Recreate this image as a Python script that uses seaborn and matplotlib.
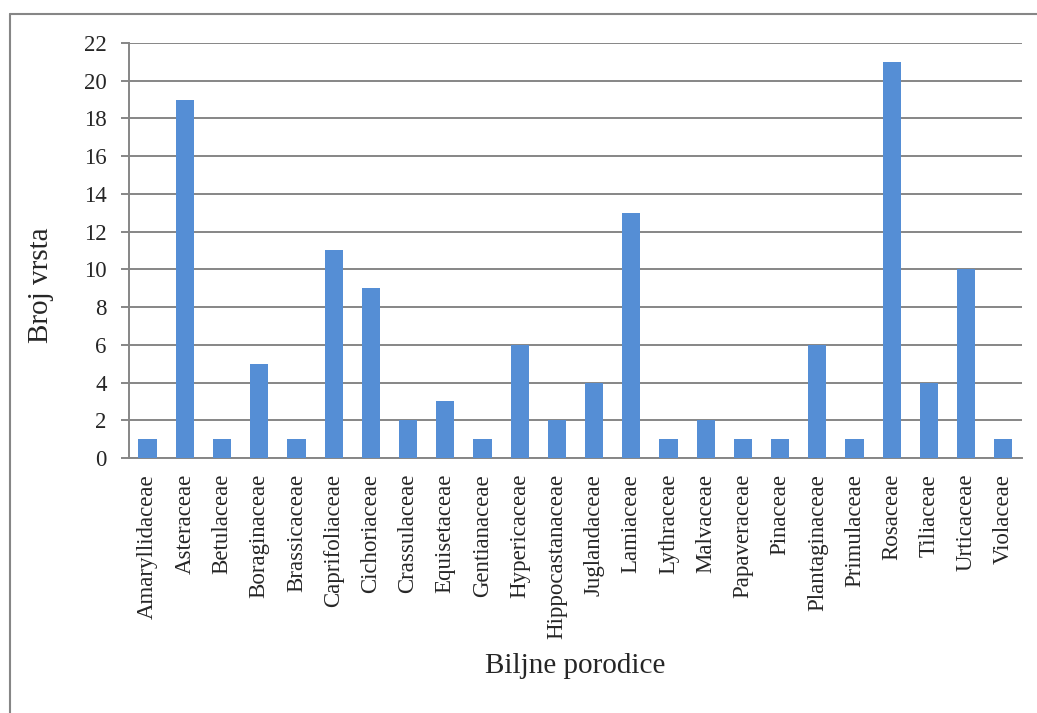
import pandas as pd
import seaborn as sns
import matplotlib.pyplot as plt
from matplotlib.lines import Line2D

# plant families and number of species
families = ['Amaryllidaceae', 'Asteraceae', 'Betulaceae', 'Boraginaceae', 'Brassicaceae',
            'Caprifoliaceae', 'Cichoriaceae', 'Crassulaceae', 'Equisetaceae', 'Gentianaceae',
            'Hypericaceae', 'Hippocastanaceae', 'Juglandaceae', 'Lamiaceae', 'Lythraceae',
            'Malvaceae', 'Papaveraceae', 'Pinaceae', 'Plantaginaceae', 'Primulaceae',
            'Rosaceae', 'Tiliaceae', 'Urticaceae', 'Violaceae']
counts = [1, 19, 1, 5, 1, 11, 9, 2, 3, 1, 6, 2, 4, 13, 1, 2, 1, 1, 6, 1, 21, 4, 10, 1]
y_ticks = list(range(0, 23, 2))

df = pd.DataFrame({'family': families, 'count': counts})

sns.set_style('white')
plt.rcParams['font.family'] = ['Liberation Serif', 'DejaVu Serif']

grey = '#868686'
fig = plt.figure(figsize=(10.37, 7.13), dpi=100)
ax = fig.add_axes([0.1244, 0.3577, 0.8611, 0.582])

sns.barplot(data=df, x='family', y='count', color='#558ED5', width=0.49,
            saturation=1, linewidth=0, ax=ax, zorder=3)

ax.set_ylim(0, 22)
ax.set_yticks(y_ticks)
ax.set_xlim(-0.5, len(families) - 0.5)
ax.yaxis.grid(True, color=grey, linewidth=1.4, zorder=0)
ax.set_axisbelow(True)

for side in ['top', 'right']:
    ax.spines[side].set_visible(False)
for side in ['left', 'bottom']:
    ax.spines[side].set_color(grey)
    ax.spines[side].set_linewidth(1.4)

ax.tick_params(axis='y', left=True, length=6, width=1.4, color=grey,
               labelsize=16.5, pad=10)
ax.tick_params(axis='x', bottom=False, labelsize=16.5, pad=8)
plt.setp(ax.get_xticklabels(), rotation=90)

ax.set_xlabel('Biljne porodice', fontsize=21, labelpad=10)
ax.set_ylabel('Broj vrsta', fontsize=21)
ax.yaxis.set_label_coords(-0.0835, 0.417)

# chart frame (only left and top edges visible in the crop)
fig.add_artist(Line2D([10 / 1037, 10 / 1037], [0, 1 - 14 / 713], color=grey,
                      linewidth=1.5, transform=fig.transFigure))
fig.add_artist(Line2D([10 / 1037, 1], [1 - 14 / 713, 1 - 14 / 713], color=grey,
                      linewidth=1.5, transform=fig.transFigure))

fig.savefig('out.png', dpi=100)
